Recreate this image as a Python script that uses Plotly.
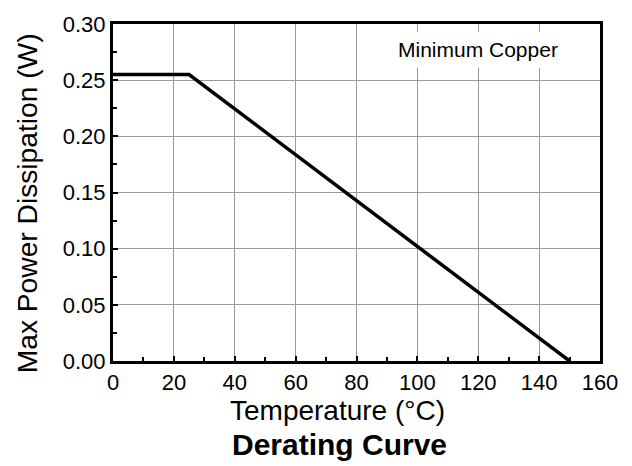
import plotly.graph_objects as go

temperature_c = [0, 25, 150]
max_power_w = [0.255, 0.255, 0.0]
x_ticks = [0, 20, 40, 60, 80, 100, 120, 140, 160]
y_ticks = [0.00, 0.05, 0.10, 0.15, 0.20, 0.25, 0.30]
y_tick_labels = ["0.00", "0.05", "0.10", "0.15", "0.20", "0.25", "0.30"]

FONT = "Liberation Sans, Arial, sans-serif"
L, R, T, B = 113, 32, 17, 105
PW = 632 - L - R
PH = 466 - T - B


def px_x(px):
    return (px - L) / PW


def px_y(py):
    return (T + PH - py) / PH


fig = go.Figure()
fig.add_trace(go.Scatter(x=temperature_c, y=max_power_w, mode="lines",
                         line=dict(color="black", width=3.5), showlegend=False,
                         cliponaxis=False))

fig.update_layout(
    width=632, height=466,
    margin=dict(l=L, r=R, t=T, b=B),
    paper_bgcolor="white", plot_bgcolor="white",
    font=dict(family=FONT, color="black"),
    xaxis=dict(range=[0, 160], tickvals=x_ticks, ticktext=[str(v) for v in x_ticks],
               showgrid=True, gridcolor="#9a9a9a", gridwidth=1,
               showline=True, linecolor="black", linewidth=3, mirror=True,
               ticks="inside", ticklen=5, tickcolor="black", tickwidth=1.5,
               minor=dict(dtick=10, tick0=0, ticks="inside", ticklen=4, tickcolor="black", tickwidth=1.5, showgrid=False),
               tickfont=dict(size=22, family=FONT), zeroline=False, fixedrange=True),
    yaxis=dict(range=[0, 0.30], tickvals=y_ticks, ticktext=y_tick_labels,
               showgrid=True, gridcolor="#9a9a9a", gridwidth=1,
               showline=True, linecolor="black", linewidth=3, mirror=True,
               ticks="inside", ticklen=5, tickcolor="black", tickwidth=1.5,
               minor=dict(dtick=0.025, tick0=0, ticks="inside", ticklen=4, tickcolor="black", tickwidth=1.5, showgrid=False),
               tickfont=dict(size=22, family=FONT), zeroline=False, fixedrange=True),
)

fig.add_annotation(x=120, y=0.277, xref="x", yref="y", text="Minimum Copper",
                   showarrow=False, font=dict(size=21, family=FONT), bgcolor="white",
                   borderpad=6, xanchor="center", yanchor="middle")
fig.add_annotation(x=px_x(27), y=px_y(200), xref="paper", yref="paper",
                   text="Max Power Dissipation (W)", textangle=-90,
                   showarrow=False, font=dict(size=28.2, family=FONT),
                   xanchor="center", yanchor="middle")
fig.add_annotation(x=px_x(337), y=px_y(412), xref="paper", yref="paper", text="Temperature (°C)",
                   showarrow=False, font=dict(size=28, family=FONT), yanchor="middle")
fig.add_annotation(x=px_x(339), y=px_y(446), xref="paper", yref="paper", text="<b>Derating Curve</b>",
                   showarrow=False, font=dict(size=30, family=FONT), yanchor="middle")

fig.write_html("out.html")
